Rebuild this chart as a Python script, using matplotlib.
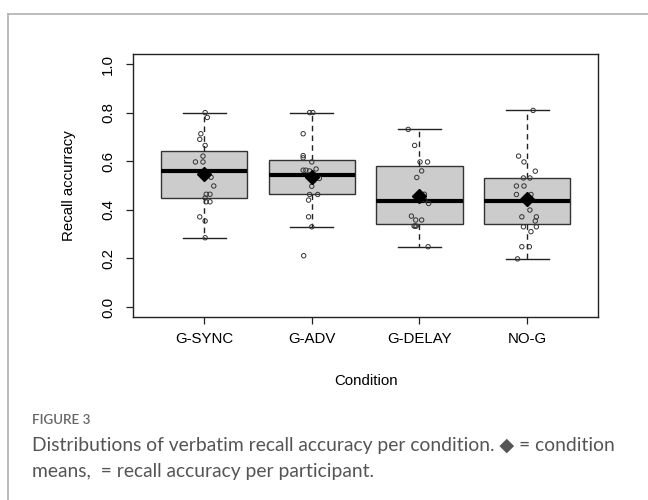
import numpy as np
import matplotlib.pyplot as plt
from matplotlib.lines import Line2D

plt.rcParams['font.family'] = ['Liberation Sans', 'DejaVu Sans']

conditions = ['G-SYNC', 'G-ADV', 'G-DELAY', 'NO-G']

# box statistics
whislo = [0.285, 0.330, 0.248, 0.198]
q1 = [0.449, 0.463, 0.341, 0.341]
med = [0.559, 0.545, 0.436, 0.436]
q3 = [0.642, 0.604, 0.579, 0.531]
whishi = [0.800, 0.800, 0.731, 0.809]
means = [0.546, 0.533, 0.457, 0.443]

# participant scores per condition
sync_vals = [0.80, 0.78, 0.713, 0.69, 0.665, 0.621, 0.597, 0.597, 0.534, 0.498,
             0.464, 0.464, 0.433, 0.433, 0.449, 0.371, 0.354, 0.285]
adv_vals = [0.80, 0.80, 0.713, 0.623, 0.614, 0.597, 0.563, 0.563, 0.56, 0.568,
            0.529, 0.497, 0.463, 0.463, 0.44, 0.371, 0.33, 0.211]
delay_vals = [0.731, 0.665, 0.597, 0.597, 0.56, 0.533, 0.464, 0.44, 0.426, 0.374,
              0.358, 0.358, 0.333, 0.333, 0.333, 0.248]
nog_vals = [0.809, 0.621, 0.597, 0.559, 0.531, 0.531, 0.498, 0.498, 0.463, 0.463,
            0.399, 0.371, 0.371, 0.354, 0.330, 0.330, 0.310, 0.248, 0.248, 0.198]

# horizontal jitter of each point
sync_jit = [0.01, 0.03, -0.03, -0.04, 0.01, -0.01, -0.08, -0.01, 0.065, 0.09,
            0.02, 0.055, 0.02, 0.055, 0.01, -0.04, 0.01, 0.01]
adv_jit = [-0.02, 0.01, -0.08, -0.08, -0.08, 0.0, -0.08, -0.055, -0.02, 0.04,
           0.07, 0.0, -0.02, 0.055, -0.03, -0.03, 0.0, -0.075]
delay_jit = [-0.105, -0.045, 0.005, 0.075, 0.02, -0.025, 0.045, 0.05, 0.085, -0.075,
             -0.035, 0.02, -0.05, -0.04, -0.03, 0.08]
nog_jit = [0.055, -0.08, -0.03, 0.075, -0.035, 0.025, -0.1, -0.03, -0.1, 0.035,
           0.025, -0.05, 0.085, 0.075, -0.035, 0.085, 0.035, -0.05, 0.02, -0.09]

points = [sync_vals, adv_vals, delay_vals, nog_vals]
jitters = [sync_jit, adv_jit, delay_jit, nog_jit]

fig = plt.figure(figsize=(6.48, 5.0), dpi=100)
ax = fig.add_axes([0.2052, 0.3666, 0.7181, 0.5248])

pos = np.arange(1, len(conditions) + 1)
stats = []
for i in range(len(conditions)):
    stats.append(dict(whislo=whislo[i], q1=q1[i], med=med[i], q3=q3[i],
                      whishi=whishi[i], fliers=[]))

ax.bxp(stats, positions=pos, widths=0.8, capwidths=0.4, patch_artist=True,
       showfliers=False,
       boxprops=dict(facecolor='#cccccc', edgecolor='#333333', linewidth=1),
       medianprops=dict(color='black', linewidth=3, solid_capstyle='butt'),
       whiskerprops=dict(color='#222222', linewidth=1, linestyle=(0, (4, 3))),
       capprops=dict(color='#222222', linewidth=1))

for i in range(len(conditions)):
    xs = pos[i] + np.array(jitters[i])
    ax.scatter(xs, points[i], s=10, facecolors='none', edgecolors='#333333',
               linewidths=0.7, zorder=4)

ax.plot(pos, means, linestyle='none', marker='D', markersize=7.5,
        color='black', zorder=5)

ax.set_xlim(0.34, 4.66)
ax.set_ylim(-0.04, 1.04)
ax.set_xticks(pos)
ax.set_xticklabels(conditions, fontsize=10.8)
ax.set_yticks([0.0, 0.2, 0.4, 0.6, 0.8, 1.0])
ax.set_yticklabels(['0.0', '0.2', '0.4', '0.6', '0.8', '1.0'], fontsize=10.8,
                   rotation=90, va='center')
ax.tick_params(axis='both', length=5, width=0.9, color='#222222')
ax.tick_params(axis='x', pad=6)
ax.tick_params(axis='y', pad=8)
for sp in ax.spines.values():
    sp.set_color('#222222')
    sp.set_linewidth(1)

ax.text(-0.1375, 0.5, 'Recall accurracy', transform=ax.transAxes, rotation=90,
        ha='center', va='center', fontsize=10.8)
ax.text(0.5, -0.245, 'Condition', transform=ax.transAxes,
        ha='center', va='center', fontsize=10.8)

# card frame (open to the right and bottom)
fig.add_artist(Line2D([0.0123, 1.0], [0.972, 0.972], transform=fig.transFigure,
                      color='#b0b0b0', linewidth=1.2))
fig.add_artist(Line2D([0.0123, 0.0123], [0.972, 0.0], transform=fig.transFigure,
                      color='#b0b0b0', linewidth=1.2))

cap_font = ['Lato', 'DejaVu Sans']
fig.text(32 / 648, 1 - 420 / 500, 'FIGURE 3', family=cap_font, fontsize=9.6,
         fontweight='semibold', color='#666666', va='center', ha='left')
fig.text(32 / 648, 1 - 445 / 500,
         'Distributions of verbatim recall accuracy per condition. \u25c6 = condition',
         family=cap_font, fontsize=13.9, color='#555555', va='center', ha='left')
fig.text(32 / 648, 1 - 472 / 500,
         'means,  = recall accuracy per participant.',
         family=cap_font, fontsize=13.9, color='#555555', va='center', ha='left')

fig.savefig('out.png', dpi=100)
